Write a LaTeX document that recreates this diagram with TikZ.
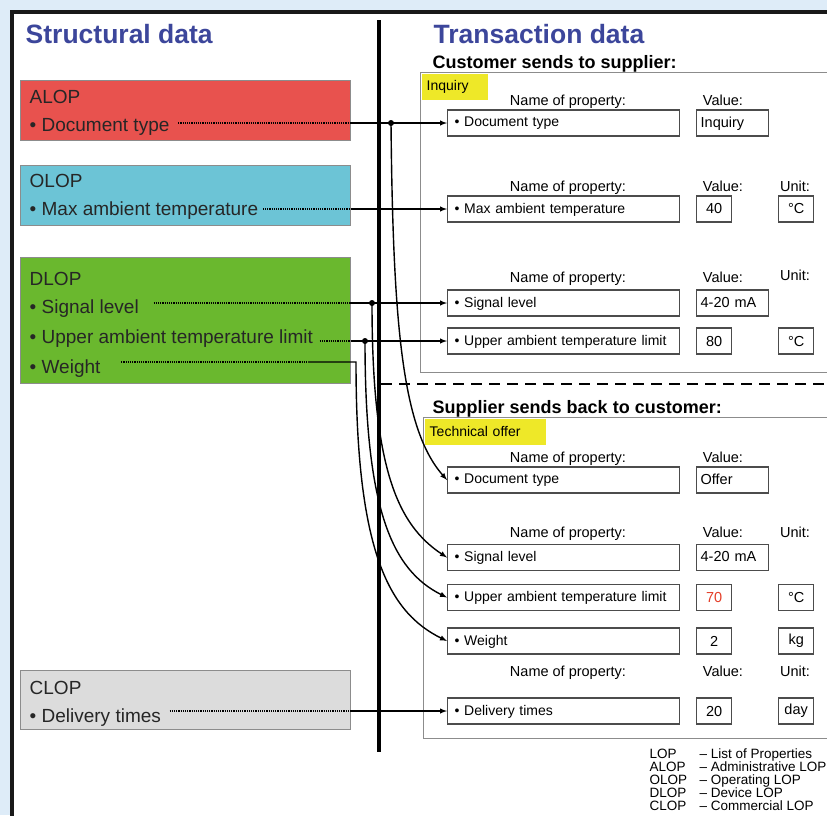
\documentclass[tikz,border=0pt]{standalone}
\usepackage{fontspec}
\setmainfont{Liberation Sans}
\definecolor{bgblue}{RGB}{222,236,248}
\definecolor{headblue}{RGB}{60,70,155}
\definecolor{alopred}{RGB}{232,82,78}
\definecolor{olopcyan}{RGB}{108,196,214}
\definecolor{dlopgreen}{RGB}{106,184,46}
\definecolor{cloplight}{RGB}{220,220,220}
\definecolor{tagyellow}{RGB}{238,232,40}
\definecolor{valred}{RGB}{228,62,40}
\begin{document}
\begin{tikzpicture}
	[x=1pt, y=1pt, >=latex, line width=1.4pt,
	lop/.style={draw=black!45, line width=0.8pt, anchor=north west, minimum width=330pt, inner sep=0pt},
	loptext/.style={anchor=base west, inner sep=0pt, text=black!85, font=\fontsize{19}{22}\selectfont},
	head/.style={anchor=base west, inner sep=0pt, text=headblue, font=\bfseries\fontsize{26.5}{30}\selectfont},
	sub/.style={anchor=base west, inner sep=0pt, font=\bfseries\fontsize{18}{21}\selectfont},
	panel/.style={draw=black!45, line width=1pt},
	tag/.style={fill=tagyellow, anchor=north west, minimum height=26pt, inner xsep=5pt, align=left, font=\fontsize{14}{16}\selectfont},
	colhead/.style={anchor=base, inner sep=0pt, font=\fontsize{14.5}{16}\selectfont},
	prop/.style={draw=black!70, line width=1.3pt, anchor=west, minimum height=26pt, text width=218pt, inner xsep=7pt, text depth=2pt, align=left, font=\fontsize{14}{16}\selectfont},
	val/.style={draw=black!70, line width=1.3pt, anchor=west, minimum height=26pt, minimum width=35pt, inner sep=0pt, font=\fontsize{14.5}{16}\selectfont},
	wval/.style={val, text width=64pt, inner xsep=4pt, text depth=2pt, align=left},
	jdot/.style={circle, fill=black, inner sep=0pt, minimum size=6pt},
	dotline/.style={densely dotted, line width=1.2pt},
	legend/.style={anchor=north west, inner sep=0pt, font=\fontsize{13.5}{10.5}\selectfont}]
	\useasboundingbox (0,0) rectangle (827,-815);
	\clip (0,0) rectangle (827,-815);
	\fill[bgblue] (0,0) rectangle (827,-815);
	\draw[line width=4pt, draw=black!90, fill=white] (12,-12) rectangle (870,-870);
	\draw[line width=4.5pt] (379,-20) -- (379,-752);
	\draw[line width=2.5pt, dash pattern=on 11pt off 7pt] (381,-384) -- (827,-384);

	\node[head] (sdata) at (25,-43) {Structural data};
	\node[head] (tdata) at (433,-43) {Transaction data};
	\node[sub] (tosup) at (432,-68) {Customer sends to supplier:};
	\node[sub] (tocus) at (432,-413) {Supplier sends back to customer:};

	\node[lop, fill=alopred, minimum height=60pt] (alop) at (20,-80) {};
	\node[loptext] (alopT) at (29,-103) {ALOP};
	\node[loptext] (adoc) at (29,-131) {• Document type};
	\node[lop, fill=olopcyan, minimum height=60pt] (olop) at (20,-165) {};
	\node[loptext] (olopT) at (29,-187) {OLOP};
	\node[loptext] (omax) at (29,-215) {• Max ambient temperature};
	\node[lop, fill=dlopgreen, minimum height=126pt] (dlop) at (20,-257) {};
	\node[loptext] (dlopT) at (29,-285) {DLOP};
	\node[loptext] (dsig) at (29,-313) {• Signal level};
	\node[loptext] (dupp) at (29,-343) {• Upper ambient temperature limit};
	\node[loptext] (dwgt) at (29,-373) {• Weight};
	\node[lop, fill=cloplight, minimum height=59pt] (clop) at (20,-670) {};
	\node[loptext] (clopT) at (29,-694) {CLOP};
	\node[loptext] (cdel) at (29,-722) {• Delivery times};

	\draw[panel] (420,-72) rectangle (870,-372);
	\node[tag, text width=56pt] (inq) at (421,-73) {Inquiry};
	\node[colhead] (in1) at (568,-105) {Name of property:};
	\node[colhead] (iv1) at (723,-105) {Value:};
	\node[prop] (idoc) at (447,-123) {• Document type};
	\node[wval] (idocv) at (696,-123) {Inquiry};
	\node[colhead] (in2) at (568,-191) {Name of property:};
	\node[colhead] (iv2) at (723,-191) {Value:};
	\node[colhead] (iu2) at (795,-191) {Unit:};
	\node[prop] (imax) at (447,-209) {• Max ambient temperature};
	\node[val] (imaxv) at (696,-209) {40};
	\node[val] (imaxu) at (778,-209) {°C};
	\node[colhead] (in3) at (568,-282) {Name of property:};
	\node[colhead] (iv3) at (723,-282) {Value:};
	\node[colhead] (iu3) at (795,-280) {Unit:};
	\node[prop] (isig) at (447,-303) {• Signal level};
	\node[wval] (isigv) at (696,-303) {4-20 mA};
	\node[prop] (iupp) at (447,-341) {• Upper ambient temperature limit};
	\node[val] (iuppv) at (696,-341) {80};
	\node[val] (iuppu) at (778,-341) {°C};

	\draw[panel] (423,-417) rectangle (870,-738);
	\node[tag, text width=111pt] (toff) at (424,-418) {Technical offer};
	\node[colhead] (on1) at (568,-462) {Name of property:};
	\node[colhead] (ov1) at (723,-462) {Value:};
	\node[prop] (odoc) at (447,-480) {• Document type};
	\node[wval] (odocv) at (696,-480) {Offer};
	\node[colhead] (on2) at (568,-537) {Name of property:};
	\node[colhead] (ov2) at (723,-537) {Value:};
	\node[colhead] (ou2) at (795,-537) {Unit:};
	\node[prop] (osig) at (447,-557.5) {• Signal level};
	\node[wval] (osigv) at (696,-557.5) {4-20 mA};
	\node[prop] (oupp) at (447,-597.5) {• Upper ambient temperature limit};
	\node[val, text=valred] (ouppv) at (696,-597.5) {70};
	\node[val] (ouppu) at (778,-597.5) {°C};
	\node[prop] (owgt) at (447,-641) {• Weight};
	\node[val] (owgtv) at (696,-641) {2};
	\node[val] (owgtu) at (778,-641) {kg};
	\node[colhead] (on3) at (568,-676) {Name of property:};
	\node[colhead] (ov3) at (723,-676) {Value:};
	\node[colhead] (ou3) at (795,-676) {Unit:};
	\node[prop] (odel) at (447,-711) {• Delivery times};
	\node[val] (odelv) at (696,-711) {20};
	\node[val] (odelu) at (778,-711) {day};

	\node[legend] (leg) at (649,-748) {\begin{tabular}{@{}p{50pt}@{}l@{}}
		LOP & – List of Properties\\
		ALOP & – Administrative LOP\\
		OLOP & – Operating LOP\\
		DLOP & – Device LOP\\
		CLOP & – Commercial LOP
	\end{tabular}};

	\node[jdot] (jdoc) at (391,-123) {};
	\node[jdot] (jsig) at (372,-303) {};
	\node[jdot] (jupp) at (365,-341) {};
	\coordinate (wsol) at (308,-362);
	\coordinate (wbend) at (356,-362);

	\draw[dotline, shorten <=8pt] (adoc.east |- idoc.west) -- (alop.east |- idoc.west);
	\draw (alop.east |- idoc.west) edge[->] (idoc.west);
	\draw[->] (jdoc.center) .. controls (393,-330) and (403,-430) .. (odoc.west);
	\draw[dotline, shorten <=4pt] (omax.east |- imax.west) -- (olop.east |- imax.west);
	\draw (olop.east |- imax.west) edge[->] (imax.west);
	\draw[dotline, shorten <=14pt] (dsig.east |- isig.west) -- (dlop.east |- isig.west);
	\draw (dlop.east |- isig.west) edge[->] (isig.west);
	\draw[->] (jsig.center) .. controls (372,-470) and (398,-525) .. (osig.west);
	\draw[dotline, shorten <=6pt] (dupp.east |- iupp.west) -- (dlop.east |- iupp.west);
	\draw (dlop.east |- iupp.west) edge[->] (iupp.west);
	\draw[->] (jupp.center) .. controls (365,-510) and (392,-570) .. (oupp.west);
	\draw[dotline, shorten <=20pt] (dwgt.east |- wsol) -- (wsol);
	\draw[->] (wsol) -- (wbend) .. controls (356,-550) and (388,-612) .. (owgt.west);
	\draw[dotline, shorten <=8pt] (cdel.east |- odel.west) -- (clop.east |- odel.west);
	\draw (clop.east |- odel.west) edge[->] (odel.west);
\end{tikzpicture}
\end{document}
